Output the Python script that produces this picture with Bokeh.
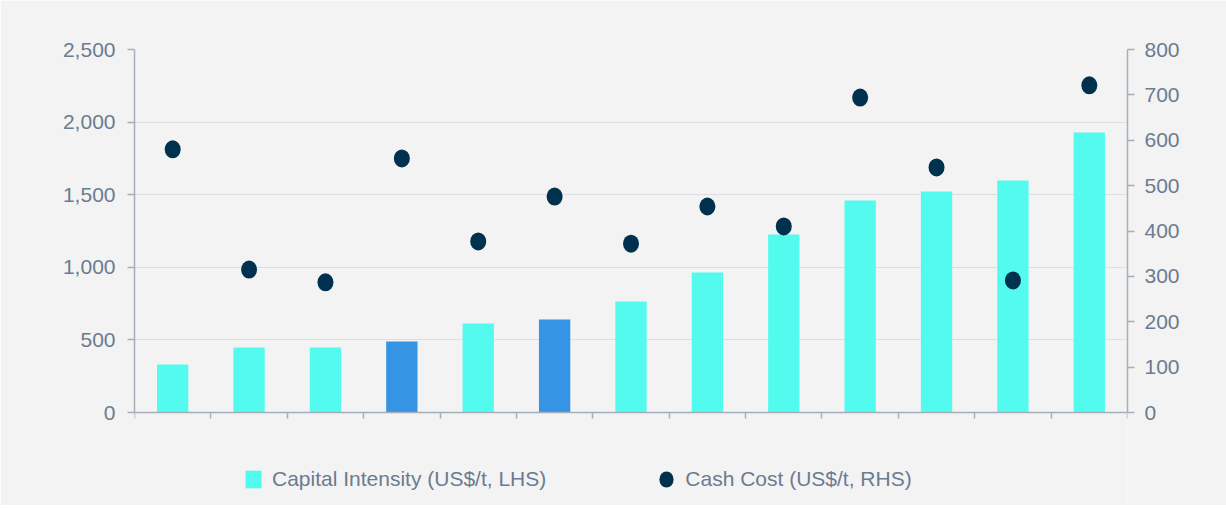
from bokeh.plotting import figure
from bokeh.models import (Range1d, LinearAxis, FixedTicker, NumeralTickFormatter,
                          ColumnDataSource, Legend, LegendItem)
from bokeh.embed import file_html
from bokeh.resources import INLINE

# ---- data ----
categories = list(range(1, 14))
capital_intensity = [330, 448, 448, 489, 613, 640, 764, 964, 1226, 1460, 1522, 1598, 1928]
highlight = [False, False, False, True, False, True, False, False, False, False, False, False, False]
cash_cost = [580, 315, 287, 560, 377, 476, 372, 454, 410, 694, 540, 291, 721]
left_ticks = [0, 500, 1000, 1500, 2000, 2500]
right_ticks = [0, 100, 200, 300, 400, 500, 600, 700, 800]
bar_label = "Capital Intensity (US$/t, LHS)"
dot_label = "Cash Cost (US$/t, RHS)"

CYAN = "#52fbee"
BLUE = "#3594e3"
NAVY = "#00324f"
BG = "#f3f3f3"
TXT = "#6b7b91"
AX = "#a5afbb"
GRID = "#dcdee1"
FONT = "Liberation Sans"

# layout (pixels)
W, H = 1226, 505
TOP, ZERO, LEFT, RIGHT = 49, 412, 134, 1127
plot_h = ZERO - TOP
below = H - ZERO
lmax, rmax = left_ticks[-1], right_ticks[-1]

xs = [i - 0.5 for i in categories]
colors = [BLUE if h else CYAN for h in highlight]
bar_src = ColumnDataSource(dict(x=xs, top=capital_intensity, color=colors))
dot_src = ColumnDataSource(dict(x=xs, y=cash_cost))

p = figure(width=W, height=H, output_backend="svg", toolbar_location=None,
           x_range=Range1d(0, len(categories)),
           y_range=Range1d(-lmax * below / plot_h, lmax),
           x_axis_location=None, y_axis_location=None,
           min_border_left=LEFT, min_border_right=W - RIGHT, min_border_top=TOP, min_border_bottom=0)
p.background_fill_color = BG
p.border_fill_color = BG
p.outline_line_color = None
p.extra_y_ranges = {"cash": Range1d(-rmax * below / plot_h, rmax)}

bars = p.vbar(x="x", top="top", width=0.41, source=bar_src, fill_color="color", line_color=None)
dots = p.ellipse(x="x", y="y", width=16, height=18, width_units="screen", height_units="screen",
                 source=dot_src, y_range_name="cash", fill_color=NAVY, line_color=None)


def style_axis(ax, standoff=0, out=7):
    ax.major_label_text_font = FONT
    ax.major_label_text_font_size = "21px"
    ax.major_label_text_color = TXT
    ax.major_label_standoff = standoff
    ax.major_tick_out = out
    ax.major_tick_in = 0
    ax.minor_tick_line_color = None
    ax.axis_line_color = AX
    ax.axis_line_width = 1.5
    ax.major_tick_line_color = AX
    ax.major_tick_line_width = 1.5


# axes
xticks = list(range(0, len(categories) + 1))
xa = LinearAxis(ticker=FixedTicker(ticks=xticks), fixed_location=0)
xa.major_label_overrides = {t: "" for t in xticks}
style_axis(xa, 0, 6)
p.add_layout(xa, "below")

ya = LinearAxis(ticker=FixedTicker(ticks=left_ticks), bounds=(0, lmax))
ya.formatter = NumeralTickFormatter(format="0,0")
style_axis(ya, 12, 7)
p.add_layout(ya, "left")

ra = LinearAxis(y_range_name="cash", ticker=FixedTicker(ticks=right_ticks), bounds=(0, rmax))
style_axis(ra, 10, 7)
p.add_layout(ra, "right")

p.xgrid.grid_line_color = None
p.ygrid.ticker = FixedTicker(ticks=left_ticks)
p.ygrid.grid_line_color = GRID
p.ygrid.grid_line_width = 1

legend = Legend(items=[LegendItem(label=bar_label, renderers=[bars], index=0),
                       LegendItem(label=dot_label, renderers=[dots])],
                location=(109, 14), orientation="horizontal",
                label_text_font=FONT, label_text_font_size="21px", label_text_color=TXT,
                glyph_width=20, glyph_height=22, label_standoff=9, spacing=110,
                padding=0, margin=0, border_line_color=None, background_fill_alpha=0)
p.add_layout(legend, "center")

open("out.html", "w").write(file_html(p, INLINE))
